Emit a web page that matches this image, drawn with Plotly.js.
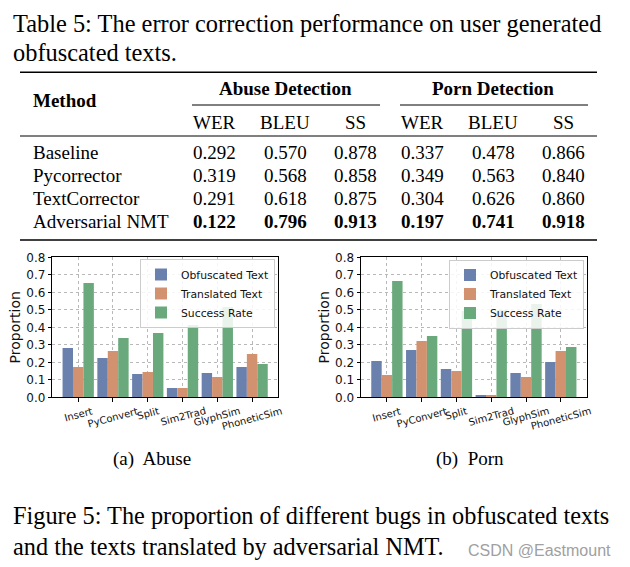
<!DOCTYPE html>
<html>
<head>
<meta charset="utf-8">
<script src="https://cdn.plot.ly/plotly-3.0.1.min.js"></script>
<style>
  html, body { margin: 0; padding: 0; background: #ffffff; }
  #chart { width: 630px; height: 567px; }
</style>
</head>
<body>
<div id="chart"></div>
<script>
// ---------- Data ----------
const categories = ['Insert', 'PyConvert', 'Split', 'Sim2Trad', 'GlyphSim', 'PhoneticSim'];
const seriesNames = ['Obfuscated Text', 'Translated Text', 'Success Rate'];

const abuseObfuscated = [0.282, 0.225, 0.133, 0.053, 0.139, 0.173];
const abuseTranslated = [0.173, 0.265, 0.145, 0.053, 0.116, 0.248];
const abuseSuccess    = [0.653, 0.339, 0.368, 0.413, 0.516, 0.190];

const pornObfuscated  = [0.208, 0.270, 0.162, 0.013, 0.139, 0.202];
const pornTranslated  = [0.128, 0.322, 0.150, 0.013, 0.116, 0.265];
const pornSuccess     = [0.665, 0.350, 0.493, 0.499, 0.533, 0.288];

const yTickValues = [0, 0.1, 0.2, 0.3, 0.4, 0.5, 0.6, 0.7, 0.8];
const yTickLabels = ['0.0', '0.1', '0.2', '0.3', '0.4', '0.5', '0.6', '0.7', '0.8'];

// Table 5
const tableMethods = ['Baseline', 'Pycorrector', 'TextCorrector', 'Adversarial NMT'];
const tableGroups = ['Abuse Detection', 'Porn Detection'];
const tableMetrics = ['WER', 'BLEU', 'SS', 'WER', 'BLEU', 'SS'];
const abuseWER  = [0.292, 0.319, 0.291, 0.122];
const abuseBLEU = [0.570, 0.568, 0.618, 0.796];
const abuseSS   = [0.878, 0.858, 0.875, 0.913];
const pornWER   = [0.337, 0.349, 0.304, 0.197];
const pornBLEU  = [0.478, 0.563, 0.626, 0.741];
const pornSS    = [0.866, 0.840, 0.860, 0.918];
const boldRow = 3;

const tableCaption = ['Table 5: The error correction performance on user generated', 'obfuscated texts.'];
const subCaptions = ['(a)  Abuse', '(b)  Porn'];
const figureCaption = ['Figure 5: The proportion of different bugs in obfuscated texts', 'and the texts translated by adversarial NMT.'];
const watermark = 'CSDN @Eastmount';

// ---------- Styling / layout helpers ----------
const W = 630, H = 567;
const px = x => x / W;
const py = y => 1 - y / H;
const colors = ['#6a80ad', '#d3926f', '#6aa97c'];
const serif = '"Liberation Serif"';
const sans = '"DejaVu Sans"';

const traces = [];
const abuseSeries = [abuseObfuscated, abuseTranslated, abuseSuccess];
const pornSeries = [pornObfuscated, pornTranslated, pornSuccess];
abuseSeries.forEach((vals, i) => traces.push({
  type: 'bar', x: categories, y: vals, name: seriesNames[i],
  xaxis: 'x', yaxis: 'y', legend: 'legend',
  marker: { color: colors[i], line: { width: 0 } }, hoverinfo: 'none'
}));
pornSeries.forEach((vals, i) => traces.push({
  type: 'bar', x: categories, y: vals, name: seriesNames[i],
  xaxis: 'x2', yaxis: 'y2', legend: 'legend2',
  marker: { color: colors[i], line: { width: 0 } }, hoverinfo: 'none'
}));

const plotTop = 257.3, plotBottom = 397.3;
const xAxisBase = {
  type: 'category', range: [-0.745, 5.745], showticklabels: false,
  showgrid: true, gridcolor: '#b8b8b8', griddash: 'dot', gridwidth: 1,
  showline: true, mirror: true, linecolor: '#000', linewidth: 1,
  ticks: 'outside', ticklen: 3.5, tickcolor: '#000', zeroline: false, fixedrange: true
};
const yAxisBase = {
  range: [0, 0.8], tickvals: yTickValues, ticktext: yTickLabels,
  showgrid: true, gridcolor: '#b8b8b8', griddash: 'dot', gridwidth: 1,
  showline: true, mirror: true, linecolor: '#000', linewidth: 1,
  ticks: 'outside', ticklen: 3.5, tickcolor: '#000', zeroline: false,
  tickfont: { family: sans, size: 12, color: '#111' },
  title: { text: 'Proportion', font: { family: sans, size: 14, color: '#111' }, standoff: 2 },
  fixedrange: true
};

const legendBase = {
  font: { family: sans, size: 10.8, color: '#111' },
  bgcolor: 'rgba(255,255,255,0.85)', bordercolor: '#cccccc', borderwidth: 1,
  xanchor: 'right', yanchor: 'top', tracegroupgap: 0, itemwidth: 30
};

const annotations = [];
const shapes = [];

function note(text, x, y, size, opts) {
  annotations.push(Object.assign({
    text: text, xref: 'paper', yref: 'paper', x: px(x), y: py(y),
    showarrow: false, xanchor: 'left', yanchor: 'middle',
    font: { family: serif, size: size, color: '#000' }
  }, opts || {}));
}
function rule(x0, x1, y, w) {
  shapes.push({ type: 'line', xref: 'paper', yref: 'paper',
    x0: px(x0), x1: px(x1), y0: py(y), y1: py(y), line: { color: '#000', width: w } });
}

// Table caption
note(tableCaption[0], 11, 23, 24.4);
note(tableCaption[1], 11, 53, 24.4);

// Table rules
rule(20, 597, 72.3, 1.5);
rule(192, 380, 105, 1);
rule(400, 588, 105, 1);
rule(20, 597, 136, 1);
rule(20, 597, 240, 1.5);

// Table header
note('<b>Method</b>', 31, 100, 19);
const groupCenters = [285, 493];
tableGroups.forEach((g, i) => note('<b>' + g + '</b>', groupCenters[i], 88.5, 19, { xanchor: 'center' }));
const colCenters = [214.5, 285, 355.5, 423, 493, 563.5];
tableMetrics.forEach((m, i) => note(m, colCenters[i], 122, 19, { xanchor: 'center' }));

// Table body
const rowY = [152, 175, 198.3, 221.7];
const columns = [abuseWER, abuseBLEU, abuseSS, pornWER, pornBLEU, pornSS];
tableMethods.forEach((m, r) => {
  note(m, 31, rowY[r], 19);
  columns.forEach((col, c) => {
    const t = col[r].toFixed(3);
    note(r === boldRow ? '<b>' + t + '</b>' : t, colCenters[c], rowY[r], 19, { xanchor: 'center' });
  });
});

// Rotated category tick labels (centered like the reference)
['x', 'x2'].forEach(ax => {
  categories.forEach(c => annotations.push({
    text: c, xref: ax, yref: 'paper', x: c, y: py(404),
    showarrow: false, xanchor: 'center', yanchor: 'top', textangle: -15,
    font: { family: sans, size: 10, color: '#111' }, borderpad: 0
  }));
});

// Sub captions and figure caption
note(subCaptions[0], 152, 459, 19, { xanchor: 'center' });
note(subCaptions[1], 470, 459, 19, { xanchor: 'center' });
note(figureCaption[0], 11, 515, 24.3);
note(figureCaption[1], 11, 546, 24.3);
note(watermark, 613, 550, 16, { xanchor: 'right', font: { family: '"Liberation Sans"', size: 16, color: '#a0a0a0' } });

const layout = {
  width: W, height: H,
  margin: { l: 0, r: 0, t: 0, b: 0, pad: 0 },
  paper_bgcolor: '#ffffff', plot_bgcolor: '#ffffff',
  barmode: 'group', bargap: 0.1, bargroupgap: 0,
  xaxis: Object.assign({}, xAxisBase, { domain: [px(52.3), px(278)], anchor: 'y' }),
  yaxis: Object.assign({}, yAxisBase, { domain: [py(plotBottom), py(plotTop)], anchor: 'x' }),
  xaxis2: Object.assign({}, xAxisBase, { domain: [px(361), px(586.7)], anchor: 'y2' }),
  yaxis2: Object.assign({}, yAxisBase, { domain: [py(plotBottom), py(plotTop)], anchor: 'x2' }),
  showlegend: true,
  legend: Object.assign({}, legendBase, { x: px(275), y: py(259) }),
  legend2: Object.assign({}, legendBase, { x: px(584), y: py(259.5) }),
  annotations: annotations,
  shapes: shapes
};

Plotly.newPlot('chart', traces, layout, { staticPlot: true, displayModeBar: false });
</script>
</body>
</html>
